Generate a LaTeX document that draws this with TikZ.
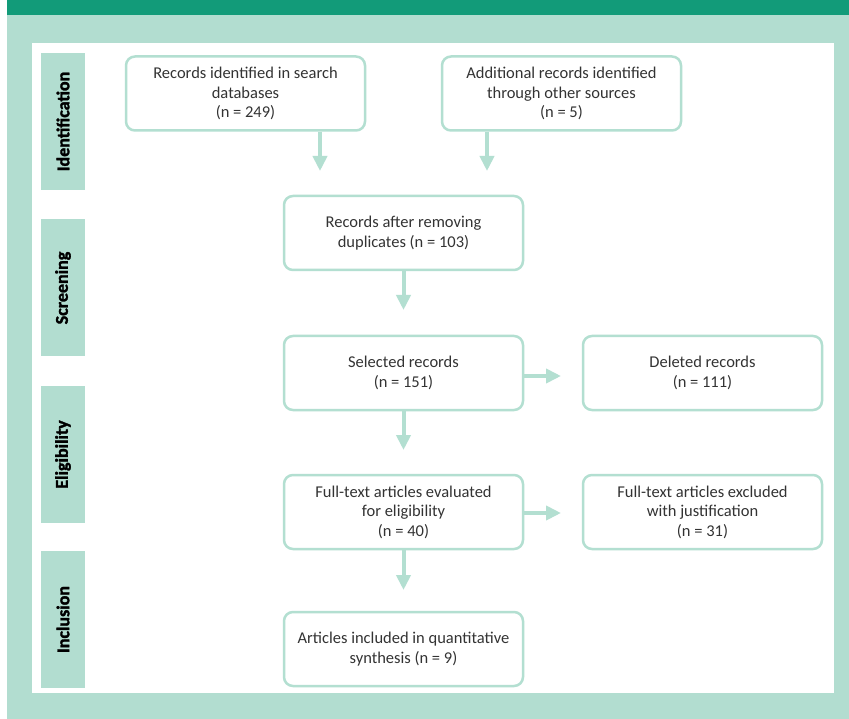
\documentclass[tikz,border=0pt]{standalone}
\usepackage{fontspec}
\setmainfont{Carlito}
\newfontfamily\phasefont{Carlito}[BoldFeatures={FakeBold=1.6}]
\usetikzlibrary{arrows.meta}
\definecolor{headgreen}{HTML}{129B79}
\definecolor{palegreen}{HTML}{B2DDD0}
\definecolor{boxline}{HTML}{B3DFD1}
\definecolor{textgrey}{HTML}{333333}
\tikzset{
	record/.style={draw=boxline,line width=2.5pt,rounded corners=9pt,fill=white,
		minimum width=239pt,minimum height=74pt,align=center,text=textgrey,
		font=\fontsize{16.5}{19.5}\selectfont},
	phase/.style={fill=palegreen,minimum width=137pt,minimum height=44pt,
		font=\phasefont\fontsize{18}{20}\selectfont\bfseries,rotate=90},
	flow/.style={draw=boxline,line width=4pt,-{Triangle[length=15pt,width=14pt]}}
}
\begin{document}
\begin{tikzpicture}[x=1pt,y=-1pt]
	\useasboundingbox (0,0) rectangle (849,719);
	% frame
	\fill[palegreen] (7,15) rectangle (849,719);
	\fill[headgreen] (7,0) rectangle (849,15);
	\fill[white] (32,43) rectangle (834,693);
	% phases
	\node[phase] (idf) at (63,121.5) {Identification};
	\node[phase] (scr) at (63,288) {Screening};
	\node[phase] (elg) at (63,454.5) {Eligibility};
	\node[phase] (inc) at (63,619.5) {Inclusion};
	% records
	\node[record] (srch) at (245.5,93.5) {Records identified in search\\databases\\(n = 249)};
	\node[record] (othr) at (561.5,93.5) {Additional records identified\\through other sources\\(n = 5)};
	\node[record] (dup) at (403.5,233) {Records after removing\\duplicates (n = 103)};
	\node[record] (sel) at (403.5,373) {Selected records\\(n = 151)};
	\node[record] (del) at (702.5,373) {Deleted records\\(n = 111)};
	\node[record] (full) at (403.5,512) {Full-text articles evaluated\\for eligibility\\(n = 40)};
	\node[record] (excl) at (702.5,512) {Full-text articles excluded\\with justification\\(n = 31)};
	\node[record] (incl) at (403.5,649) {Articles included in quantitative\\synthesis (n = 9)};
	% arrow ends
	\coordinate (srchend) at (320,171);
	\coordinate (othrend) at (487,171);
	\coordinate (dupend) at (403.5,310);
	\coordinate (selend) at (403.5,450);
	\coordinate (fullend) at (403.5,590);
	\coordinate (delend) at (561,376);
	\coordinate (exclend) at (561,513);
	\draw[flow] (srch.south -| srchend) -- (srchend);
	\draw[flow] (othr.south -| othrend) -- (othrend);
	\draw[flow] (dup.south) -- (dupend);
	\draw[flow] (sel.south) -- (selend);
	\draw[flow] (full.south) -- (fullend);
	\draw[flow] (sel.east |- delend) -- (delend);
	\draw[flow] (full.east |- exclend) -- (exclend);
\end{tikzpicture}
\end{document}
